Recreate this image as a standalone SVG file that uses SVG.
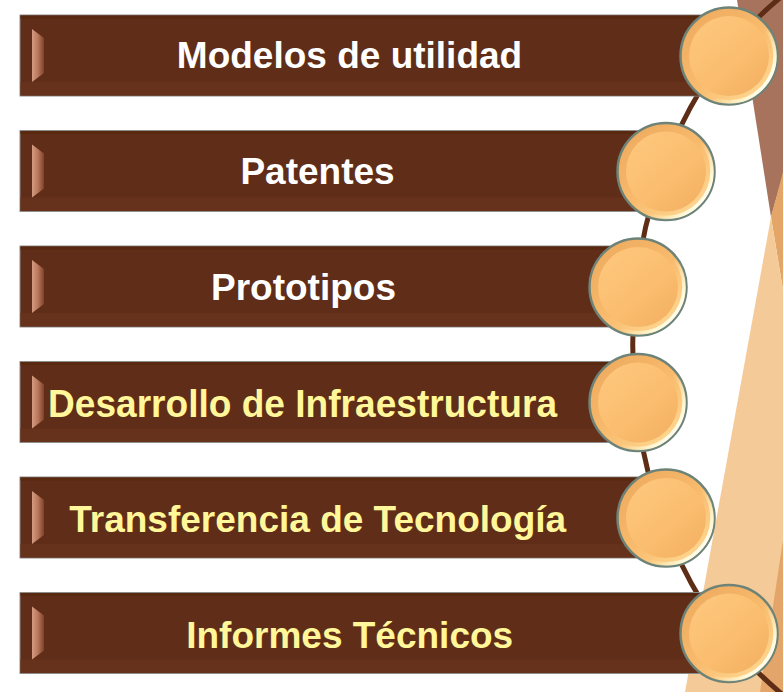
<svg xmlns="http://www.w3.org/2000/svg" width="783" height="692" viewBox="0 0 783 692">
  <defs>
    <linearGradient id="bevelL" x1="0" y1="0" x2="1" y2="0">
      <stop offset="0" stop-color="#D49B80"/>
      <stop offset="0.5" stop-color="#B9775C"/>
      <stop offset="1" stop-color="#7E4129"/>
    </linearGradient>
    <linearGradient id="rim" x1="0.15" y1="0.1" x2="0.85" y2="0.9">
      <stop offset="0" stop-color="#EEAC60"/>
      <stop offset="0.5" stop-color="#F8BA6C"/>
      <stop offset="1" stop-color="#FFD892"/>
    </linearGradient>
    <linearGradient id="plate" x1="0.15" y1="0.1" x2="0.85" y2="0.9">
      <stop offset="0" stop-color="#FDC67B"/>
      <stop offset="0.6" stop-color="#FBBD6F"/>
      <stop offset="1" stop-color="#F4B264"/>
    </linearGradient>
    <linearGradient id="hl" x1="0.2" y1="0.2" x2="1" y2="0.8">
      <stop offset="0" stop-color="#FFF6C8" stop-opacity="0"/>
      <stop offset="0.55" stop-color="#FFF6C8" stop-opacity="0"/>
      <stop offset="0.85" stop-color="#FFF8D8" stop-opacity="1"/>
      <stop offset="1" stop-color="#FFFFFF" stop-opacity="1"/>
    </linearGradient>
  </defs>
  <style>
    .bar { fill: #602D18; stroke: #8E8E8E; stroke-width: 1; }
    .barTop { fill: #58290F; }
    .barBot { fill: #66321C; }
    .bevel { fill: url(#bevelL); }
    .rim { fill: url(#rim); stroke: #6D8378; stroke-width: 2.5; }
    .hl { fill: none; stroke: url(#hl); stroke-width: 3.5; }
    .plate { fill: url(#plate); }
    .lbl { font-family: "Liberation Sans", Arial, sans-serif; font-weight: bold; font-size: 37px; text-anchor: middle; }
    .w { fill: #FFFFFF; }
    .y { fill: #FFF799; }
    .curve { fill: none; stroke: #5E2D15; stroke-width: 5; }
  </style>
  <rect width="783" height="692" fill="#FFFFFF"/>
  <g id="background">
    <polygon points="737,0 783,0 783,175 771,217" fill="#A8735D"/>
    <polygon points="783,172 771,217 783,290" fill="#E3A568"/>
    <polygon points="771,217 783,290 783,692 685,692" fill="#F5CA99"/>
    <polygon points="783,540 760,692 783,692" fill="#E4A56A"/>
  </g>
  <g id="connectors">
    <path class="curve" d="M 790,-10 C 580,150 580,540 792,702"/>
  </g>
  <g id="node1">
    <rect class="bar" x="20" y="15" width="709" height="81"/>
    <rect class="barTop" x="20.5" y="15.5" width="708" height="3"/>
    <rect class="barBot" x="20.5" y="82" width="708" height="13.5"/>
    <polygon class="bevel" points="32,29 44,38 44,73 32,82"/>
    <text class="lbl w" x="349.5" y="68">Modelos de utilidad</text>
    <circle class="rim" cx="729" cy="56" r="48.5"/>
    <circle class="plate" cx="729" cy="56" r="40"/>
    <circle class="hl" cx="729" cy="56" r="46"/>
  </g>
  <g id="node2">
    <rect class="bar" x="20" y="130.5" width="646" height="81"/>
    <rect class="barTop" x="20.5" y="131" width="645" height="3"/>
    <rect class="barBot" x="20.5" y="197.5" width="645" height="13.5"/>
    <polygon class="bevel" points="32,144.5 44,153.5 44,188.5 32,197.5"/>
    <text class="lbl w" x="317.5" y="184">Patentes</text>
    <circle class="rim" cx="666" cy="171.5" r="48.5"/>
    <circle class="plate" cx="666" cy="171.5" r="40"/>
    <circle class="hl" cx="666" cy="171.5" r="46"/>
  </g>
  <g id="node3">
    <rect class="bar" x="20" y="246" width="618" height="81"/>
    <rect class="barTop" x="20.5" y="246.5" width="617" height="3"/>
    <rect class="barBot" x="20.5" y="313" width="617" height="13.5"/>
    <polygon class="bevel" points="32,260 44,269 44,304 32,313"/>
    <text class="lbl w" x="303.5" y="299.5">Prototipos</text>
    <circle class="rim" cx="638" cy="287" r="48.5"/>
    <circle class="plate" cx="638" cy="287" r="40"/>
    <circle class="hl" cx="638" cy="287" r="46"/>
  </g>
  <g id="node4">
    <rect class="bar" x="20" y="361.5" width="618" height="81"/>
    <rect class="barTop" x="20.5" y="362" width="617" height="3"/>
    <rect class="barBot" x="20.5" y="428.5" width="617" height="13.5"/>
    <polygon class="bevel" points="32,375.5 44,384.5 44,419.5 32,428.5"/>
    <text class="lbl y" x="302.5" y="416.5" textLength="509" lengthAdjust="spacingAndGlyphs" style="font-size:38px">Desarrollo de Infraestructura</text>
    <circle class="rim" cx="638" cy="402.5" r="48.5"/>
    <circle class="plate" cx="638" cy="402.5" r="40"/>
    <circle class="hl" cx="638" cy="402.5" r="46"/>
  </g>
  <g id="node5">
    <rect class="bar" x="20" y="477" width="646" height="81"/>
    <rect class="barTop" x="20.5" y="477.5" width="645" height="3"/>
    <rect class="barBot" x="20.5" y="544" width="645" height="13.5"/>
    <polygon class="bevel" points="32,491 44,500 44,535 32,544"/>
    <text class="lbl y" x="317.7" y="532">Transferencia de Tecnología</text>
    <circle class="rim" cx="666" cy="518" r="48.5"/>
    <circle class="plate" cx="666" cy="518" r="40"/>
    <circle class="hl" cx="666" cy="518" r="46"/>
  </g>
  <g id="node6">
    <rect class="bar" x="20" y="592.5" width="709" height="81"/>
    <rect class="barTop" x="20.5" y="593" width="708" height="3"/>
    <rect class="barBot" x="20.5" y="659.5" width="708" height="13.5"/>
    <polygon class="bevel" points="32,606.5 44,615.5 44,650.5 32,659.5"/>
    <text class="lbl y" x="349.7" y="647.5">Informes Técnicos</text>
    <circle class="rim" cx="729" cy="633.5" r="48.5"/>
    <circle class="plate" cx="729" cy="633.5" r="40"/>
    <circle class="hl" cx="729" cy="633.5" r="46"/>
  </g>
</svg>
